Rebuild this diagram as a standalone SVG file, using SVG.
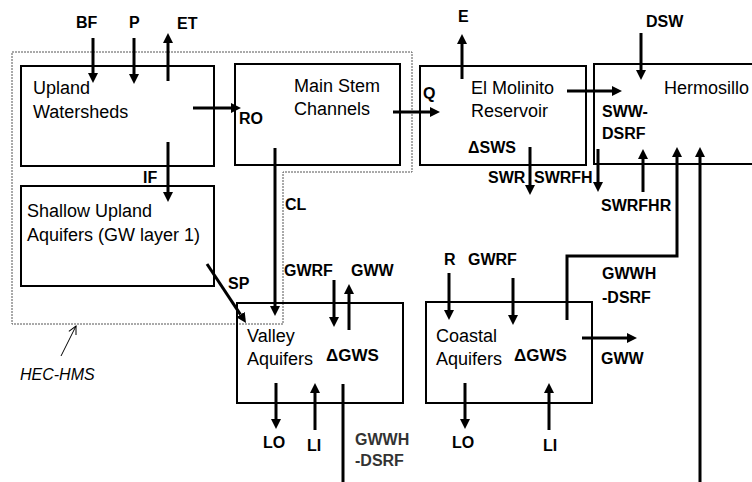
<svg xmlns="http://www.w3.org/2000/svg" width="752" height="482" viewBox="0 0 752 482">
<defs>
<style>
.box{fill:none;stroke:#000;stroke-width:2}
.t{font-family:"Liberation Sans",Arial,sans-serif;font-size:18px;fill:#000}
.b{font-family:"Liberation Sans",Arial,sans-serif;font-size:16px;font-weight:bold;fill:#000}
.g{fill:#333}
.a{fill:none;stroke:#000;stroke-width:3;marker-end:url(#ah)}
.l{fill:none;stroke:#000;stroke-width:3}
.dash{fill:none;stroke:#555;stroke-width:1;stroke-dasharray:2,1}
</style>
<marker id="ah" markerUnits="userSpaceOnUse" viewBox="0 -5 10 10" refX="0" refY="0" markerWidth="10" markerHeight="10" orient="auto">
<path d="M0,-5 L10,0 L0,5 z" fill="#000"/>
</marker>
<marker id="oh" markerUnits="userSpaceOnUse" viewBox="0 -5 10 10" refX="9" refY="0" markerWidth="10" markerHeight="10" orient="auto">
<path d="M1,-4 L9,0 L1,4" fill="none" stroke="#000" stroke-width="1"/>
</marker>
</defs>
<rect width="752" height="482" fill="#fff"/>

<g id="hec-hms">
<path class="dash" d="M12,52 H412 V172 H283 V324 H12 Z"/>
<line x1="61" y1="356" x2="76" y2="326" stroke="#000" stroke-width="1" marker-end="url(#oh)"/>
<text x="20" y="380" font-family="Liberation Sans,Arial,sans-serif" font-size="16" font-style="italic">HEC-HMS</text>
</g>

<g id="upland-watersheds">
<rect class="box" x="21" y="66" width="193" height="100"/>
<text class="t" x="33" y="94">Upland</text>
<text class="t" x="33" y="118">Watersheds</text>
</g>
<g id="main-stem-channels">
<rect class="box" x="235" y="64" width="165" height="101"/>
<text class="t" x="294" y="92">Main Stem</text>
<text class="t" x="294" y="115">Channels</text>
</g>
<g id="el-molinito">
<rect class="box" x="420" y="66" width="166" height="99"/>
<text class="t" x="471" y="94">El Molinito</text>
<text class="t" x="471" y="117">Reservoir</text>
<text class="b" x="468" y="153">ΔSWS</text>
</g>
<g id="hermosillo">
<rect class="box" x="594" y="64" width="170" height="100"/>
<text class="t" x="664" y="94">Hermosillo</text>
</g>
<g id="shallow-upland-aquifers">
<rect class="box" x="21" y="186" width="193" height="100"/>
<text class="t" x="27" y="217">Shallow Upland</text>
<text class="t" x="27" y="241">Aquifers (GW layer 1)</text>
</g>
<g id="valley-aquifers">
<rect class="box" x="237" y="303" width="166" height="100"/>
<text class="t" x="247" y="342">Valley</text>
<text class="t" x="247" y="365">Aquifers</text>
<text class="b" x="326" y="361" style="font-size:17px">ΔGWS</text>
</g>
<g id="coastal-aquifers">
<rect class="box" x="426" y="302" width="166" height="101"/>
<text class="t" x="436" y="342">Coastal</text>
<text class="t" x="436" y="365">Aquifers</text>
<text class="b" x="514" y="361" style="font-size:17px">ΔGWS</text>
</g>

<g id="connectors">
<line class="a" x1="93" y1="38" x2="93" y2="73"/>
<line class="a" x1="134" y1="38" x2="134" y2="74"/>
<line class="a" x1="168" y1="81" x2="168" y2="43"/>
<line class="a" x1="168" y1="142" x2="168" y2="192"/>
<line class="a" x1="193" y1="108" x2="231" y2="108"/>
<line class="a" x1="393" y1="112" x2="430" y2="112"/>
<line class="a" x1="462" y1="79" x2="462" y2="44"/>
<line class="a" x1="567" y1="91" x2="612" y2="91"/>
<line class="a" x1="641" y1="33" x2="641" y2="70"/>
<line class="a" x1="643" y1="192" x2="643" y2="159"/>
<line class="a" x1="530" y1="147" x2="530" y2="185"/>
<line class="a" x1="598" y1="149" x2="598" y2="182"/>
<line class="a" x1="275" y1="148" x2="275" y2="306"/>
<line class="a" x1="207" y1="264" x2="240.5" y2="314.6"/>
<line class="a" x1="334" y1="280" x2="334" y2="317"/>
<line class="a" x1="349" y1="330" x2="349" y2="294"/>
<line class="a" x1="276" y1="383" x2="276" y2="419"/>
<line class="a" x1="315" y1="430" x2="315" y2="393"/>
<line class="l" x1="343" y1="384" x2="343" y2="482"/>
<line class="a" x1="449" y1="273" x2="449" y2="310"/>
<line class="a" x1="513" y1="278" x2="513" y2="315"/>
<line class="a" x1="465" y1="383" x2="465" y2="419"/>
<line class="a" x1="549" y1="430" x2="549" y2="393"/>
<line class="a" x1="582" y1="338" x2="627" y2="338"/>
<polyline class="a" points="567,320 567,256 677,256 677,157"/>
<line class="a" x1="700" y1="482" x2="700" y2="157"/>
</g>

<g id="labels">
<text class="b" x="76" y="28">BF</text>
<text class="b" x="129" y="28">P</text>
<text class="b" x="177" y="29">ET</text>
<text class="b" x="143" y="183">IF</text>
<text class="b" x="239" y="124">RO</text>
<text class="b" x="423" y="99">Q</text>
<text class="b" x="458" y="22">E</text>
<text class="b" x="646" y="27">DSW</text>
<text class="b" x="602" y="117">SWW-</text>
<text class="b" x="602" y="139">DSRF</text>
<text class="b" x="488" y="183">SWR</text>
<text class="b" x="534" y="183">SWRFH</text>
<text class="b" x="601" y="211">SWRFHR</text>
<text class="b" x="285" y="210">CL</text>
<text class="b" x="228" y="289">SP</text>
<text class="b" x="284" y="276">GWRF</text>
<text class="b" x="351" y="276">GWW</text>
<text class="b" x="263" y="448">LO</text>
<text class="b" x="307" y="451">LI</text>
<text class="b g" x="355" y="445">GWWH</text>
<text class="b g" x="355" y="466">-DSRF</text>
<text class="b" x="444" y="265">R</text>
<text class="b" x="468" y="265">GWRF</text>
<text class="b" x="452" y="448">LO</text>
<text class="b" x="543" y="451">LI</text>
<text class="b" x="601" y="364">GWW</text>
<text class="b" x="602" y="279">GWWH</text>
<text class="b" x="602" y="303">-DSRF</text>
</g>
</svg>
